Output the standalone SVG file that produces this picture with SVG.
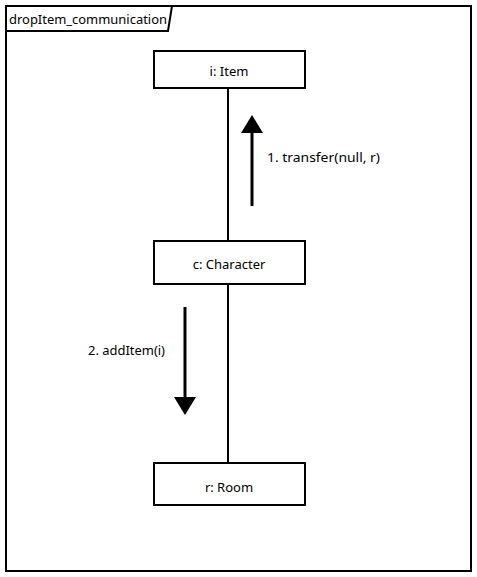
<svg xmlns="http://www.w3.org/2000/svg" width="477" height="577" viewBox="0 0 477 577">
  <style>
    text { font-family: "Noto Sans", "DejaVu Sans", sans-serif; font-size: 13px; fill: #000; }
    .box { fill: #fff; stroke: #000; stroke-width: 2; }
    .line { stroke: #000; stroke-width: 2; fill: none; }
    .msg { stroke: #000; stroke-width: 3; fill: none; }
    .head { fill: #000; stroke: none; }
  </style>
  <rect width="477" height="577" fill="#fff"/>

  <!-- frame -->
  <g id="frame">
    <rect x="6" y="6" width="465" height="565" class="line"/>
    <path d="M6 31 H168 L172 6" class="line"/>
    <text x="9" y="24" textLength="158" lengthAdjust="spacingAndGlyphs">dropItem_communication</text>
  </g>

  <!-- connectors -->
  <g id="connectors">
    <line x1="228" y1="88" x2="228" y2="241" class="line"/>
    <line x1="228" y1="284" x2="228" y2="463" class="line"/>
    <line x1="252" y1="206" x2="252" y2="130" class="msg"/>
    <polygon points="252,115 241,133 263,133" class="head"/>
    <text x="267" y="162" textLength="113" lengthAdjust="spacingAndGlyphs">1. transfer(null, r)</text>
    <line x1="185" y1="307" x2="185" y2="400" class="msg"/>
    <polygon points="185,415 174,397 196,397" class="head"/>
    <text x="88" y="355" textLength="77" lengthAdjust="spacingAndGlyphs">2. addItem(i)</text>
  </g>

  <g id="item">
    <rect x="154" y="51" width="151" height="37" class="box"/>
    <text x="229" y="76" text-anchor="middle">i: Item</text>
  </g>
  <g id="character">
    <rect x="154" y="241" width="151" height="43" class="box"/>
    <text x="229" y="269" text-anchor="middle">c: Character</text>
  </g>
  <g id="room">
    <rect x="154" y="463" width="151" height="42" class="box"/>
    <text x="229" y="492" text-anchor="middle">r: Room</text>
  </g>
</svg>
